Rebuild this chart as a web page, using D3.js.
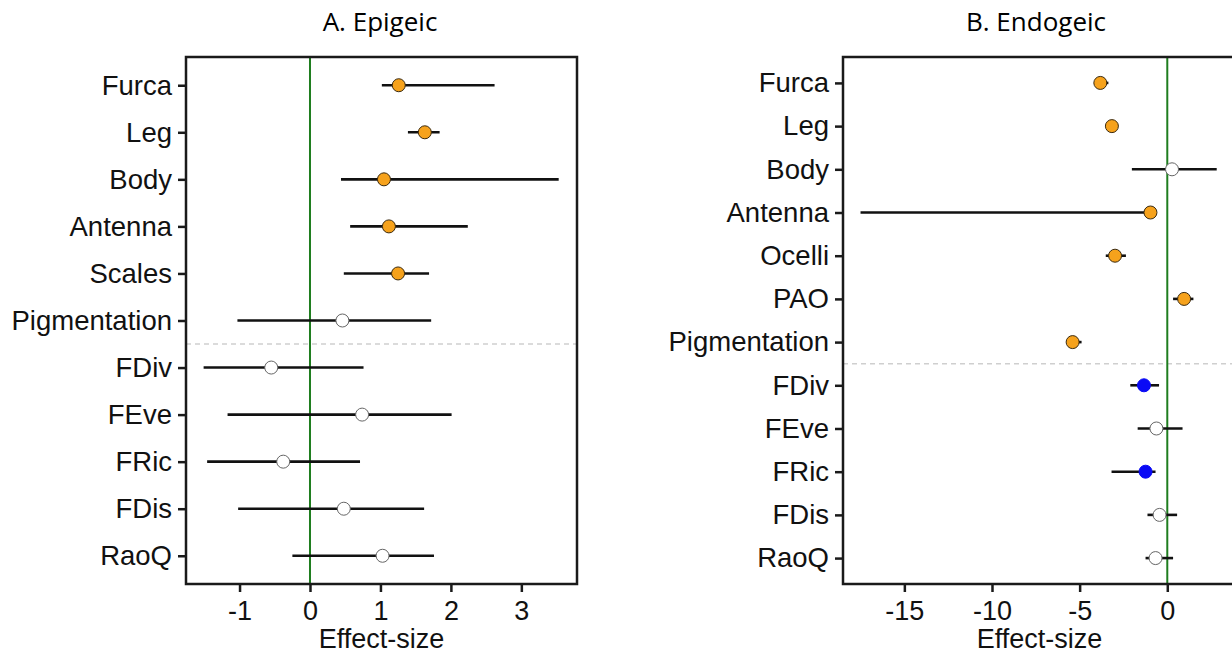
<!DOCTYPE html>
<html>
<head>
<meta charset="utf-8">
<script src="https://cdn.jsdelivr.net/npm/d3@7"></script>
<style>
  body { margin: 0; background: #fff; }
  svg { display: block; }
</style>
</head>
<body>
<svg id="chart" width="1232" height="653"></svg>
<script>
// A. Epigeic
var traitsA = ["Furca", "Leg", "Body", "Antenna", "Scales", "Pigmentation", "FDiv", "FEve", "FRic", "FDis", "RaoQ"];
var effectA = [1.26, 1.63, 1.05, 1.12, 1.25, 0.46, -0.55, 0.74, -0.38, 0.48, 1.03];
var lowerA  = [1.02, 1.39, 0.44, 0.57, 0.48, -1.03, -1.51, -1.17, -1.46, -1.02, -0.25];
var upperA  = [2.62, 1.84, 3.53, 2.24, 1.69, 1.72, 0.76, 2.01, 0.71, 1.62, 1.76];
var groupA  = ["pos", "pos", "pos", "pos", "pos", "ns", "ns", "ns", "ns", "ns", "ns"];
var ticksA  = [-1, 0, 1, 2, 3];

// B. Endogeic
var traitsB = ["Furca", "Leg", "Body", "Antenna", "Ocelli", "PAO", "Pigmentation", "FDiv", "FEve", "FRic", "FDis", "RaoQ"];
var effectB = [-3.82, -3.16, 0.27, -0.96, -2.98, 0.96, -5.40, -1.33, -0.62, -1.24, -0.44, -0.67];
var lowerB  = [-4.05, -3.35, -2.02, -17.5, -3.51, 0.33, -5.73, -2.11, -1.69, -3.18, -1.13, -1.24];
var upperB  = [-3.36, -2.95, 2.82, -0.75, -2.36, 1.49, -4.89, -0.47, 0.87, -0.67, 0.56, 0.33];
var groupB  = ["pos", "pos", "ns", "pos", "pos", "pos", "pos", "neg", "ns", "neg", "ns", "ns"];
var ticksB  = [-15, -10, -5, 0];

var fills = { pos: "#f6a21c", ns: "#ffffff", neg: "#0a0af5" };
var strokes = { pos: "#3a2a10", ns: "#666666", neg: "#0a0af5" };

var svg = d3.select("#chart");
var axisFont = "'Liberation Sans', Arial, Helvetica, sans-serif";

function panel(opts) {
    var g = svg.append("g");
    var top = 57, bottom = 584;

    var x = d3.scaleLinear().domain(opts.xdomain).range([opts.left, opts.right]);
    var y = d3.scalePoint().domain(opts.traits).range([top, bottom]).padding(0.6);

    var rows = opts.traits.map(function(t, i) {
        return { trait: t, est: opts.effect[i], lo: opts.lower[i], hi: opts.upper[i], grp: opts.group[i] };
    });

    // titel boven het paneel
    g.append("text")
        .attr("x", opts.titleX)
        .attr("y", 31)
        .attr("text-anchor", "middle")
        .style("font-family", "'Open Sans', sans-serif")
        .style("font-size", "26px")
        .style("fill", "#000")
        .text(opts.title);

    // stippellijn tussen kenmerken en indices
    var sepY = (y(opts.traits[opts.sepAfter]) + y(opts.traits[opts.sepAfter + 1])) / 2;
    g.append("line")
        .attr("x1", opts.left).attr("x2", opts.right)
        .attr("y1", sepY).attr("y2", sepY)
        .attr("stroke", "#cfcfcf")
        .attr("stroke-width", 1.5)
        .attr("stroke-dasharray", "5,4");

    // nul-lijn
    g.append("line")
        .attr("x1", x(0)).attr("x2", x(0))
        .attr("y1", top).attr("y2", bottom)
        .attr("stroke", "#1f7d1f")
        .attr("stroke-width", 2);

    // foutbalken
    g.selectAll(".bar")
        .data(rows)
        .enter()
        .append("line")
        .attr("class", "bar")
        .attr("x1", function(d) { return x(d.lo); })
        .attr("x2", function(d) { return x(d.hi); })
        .attr("y1", function(d) { return y(d.trait); })
        .attr("y2", function(d) { return y(d.trait); })
        .attr("stroke", "#111")
        .attr("stroke-width", 2.6);

    // punten
    g.selectAll(".dot")
        .data(rows)
        .enter()
        .append("circle")
        .attr("class", "dot")
        .attr("cx", function(d) { return x(d.est); })
        .attr("cy", function(d) { return y(d.trait); })
        .attr("r", 6.5)
        .attr("fill", function(d) { return fills[d.grp]; })
        .attr("stroke", function(d) { return strokes[d.grp]; })
        .attr("stroke-width", 1);

    // kader
    g.append("rect")
        .attr("x", opts.left).attr("y", top)
        .attr("width", opts.right - opts.left)
        .attr("height", bottom - top)
        .attr("fill", "none")
        .attr("stroke", "#1a1a1a")
        .attr("stroke-width", 2.5);

    // x-as
    var xAxis = g.append("g")
        .attr("transform", "translate(0," + bottom + ")")
        .call(d3.axisBottom(x).tickValues(opts.ticks).tickSize(8).tickPadding(9).tickFormat(d3.format("d")));
    xAxis.select(".domain").remove();
    xAxis.selectAll("line").attr("stroke", "#1a1a1a").attr("stroke-width", 2.5);
    xAxis.selectAll("text")
        .style("font-family", axisFont)
        .style("font-size", "27px")
        .style("fill", "#111")
        .text(function(d) { return d < 0 ? "-" + Math.abs(d) : d; });

    // y-as
    var yAxis = g.append("g")
        .attr("transform", "translate(" + opts.left + ",0)")
        .call(d3.axisLeft(y).tickSize(8).tickPadding(6));
    yAxis.select(".domain").remove();
    yAxis.selectAll("line").attr("stroke", "#1a1a1a").attr("stroke-width", 2.5);
    yAxis.selectAll("text")
        .style("font-family", axisFont)
        .style("font-size", "27.5px")
        .style("fill", "#111");

    // as-titel
    g.append("text")
        .attr("x", (opts.left + opts.right) / 2)
        .attr("y", 648)
        .attr("text-anchor", "middle")
        .style("font-family", axisFont)
        .style("font-size", "27px")
        .style("fill", "#111")
        .text("Effect-size");
}

panel({
    title: "A. Epigeic", titleX: 380,
    traits: traitsA, effect: effectA, lower: lowerA, upper: upperA, group: groupA,
    ticks: ticksA, xdomain: [-1.76, 3.79],
    left: 186, right: 577, sepAfter: 5
});

panel({
    title: "B. Endogeic", titleX: 1036,
    traits: traitsB, effect: effectB, lower: lowerB, upper: upperB, group: groupB,
    ticks: ticksB, xdomain: [-18.5, 3.92],
    left: 843, right: 1236, sepAfter: 6
});
</script>
</body>
</html>
